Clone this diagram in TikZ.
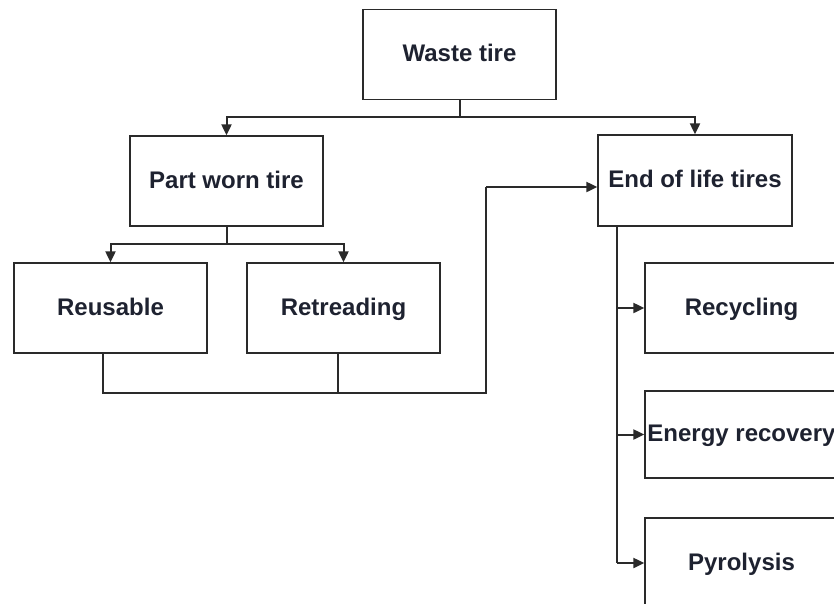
\documentclass[tikz,border=0pt]{standalone}
\usepackage{fontspec}
\setmainfont{Liberation Sans}
\usetikzlibrary{arrows.meta}
\definecolor{ink}{HTML}{2A2A2A}
\definecolor{txt}{HTML}{1E2230}
\tikzset{
  box/.style={draw=ink, line width=1.3pt, fill=white, minimum width=193pt, minimum height=90pt, inner sep=0pt, text height=18pt, text depth=4pt, text=txt, font=\fontsize{24}{28}\selectfont\bfseries},
  conn/.style={draw=ink, line width=2pt},
  arr/.style={conn, -{Triangle[length=11pt,width=10pt]}}
}
\begin{document}
\begin{tikzpicture}[x=1pt,y=-1pt]
\path[use as bounding box, clip] (0,0) rectangle (834,603);
\node[box] (waste) at (459.5,54.5) {Waste tire};
\node[box] (part) at (226.5,181) {Part worn tire};
\node[box] (reuse) at (110.5,308) {Reusable};
\node[box] (retread) at (343.5,308) {Retreading};
\node[box, minimum width=194pt, minimum height=91pt] (eol) at (695,180.5) {End of life tires};
\node[box] (recyc) at (741.5,308) {Recycling};
\node[box, minimum height=87pt] (energy) at (741.5,434.5) {Energy recovery};
\node[box] (pyro) at (741.5,563) {Pyrolysis};
% waste tire split
\coordinate (wj) at (459.5,117);
\draw[conn] (waste.south) -- (wj);
\draw[arr] (wj) -| (part.north);
\draw[arr] (wj) -| (eol.north);
% part worn split
\coordinate (pj) at (226.5,244);
\draw[conn] (part.south) -- (pj);
\draw[arr] (pj) -| (reuse.north);
\draw[arr] (pj) -| (retread.north);
% merge to end of life
\coordinate (m1) at (103,393);
\coordinate (m2) at (338,393);
\coordinate (m3) at (486,393);
\coordinate (m4) at (486,187);
\draw[conn, line width=1.6pt] (reuse.south -| m1) -- (m1) -- (m3) -- (m4);
\draw[conn, line width=1.6pt] (retread.south -| m2) -- (m2);
\draw[arr] (m4) -- (m4 -| eol.west);
% end of life branches
\coordinate (e0) at (617,226);
\coordinate (e1) at (617,563);
\draw[conn, line width=2.4pt] (e0) -- (e1);
\draw[arr] (e0 |- recyc.west) -- (recyc.west);
\draw[arr] (e0 |- energy.west) -- (energy.west);
\draw[arr] (e1) -- (pyro.west);
\end{tikzpicture}
\end{document}
